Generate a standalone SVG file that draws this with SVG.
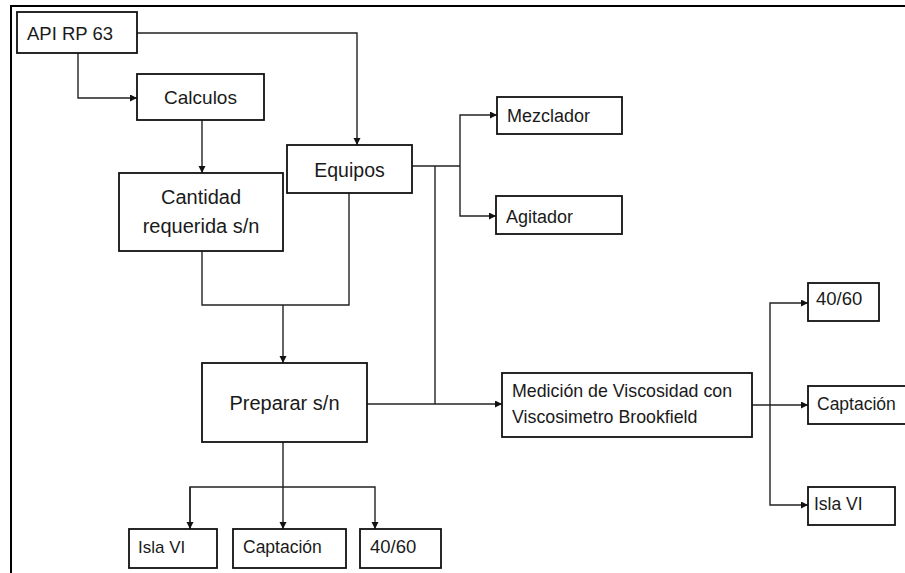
<svg xmlns="http://www.w3.org/2000/svg" width="905" height="573" viewBox="0 0 905 573">
<style>
.box{fill:#fff;stroke:#111;stroke-width:1.8}
.t{font-family:"Liberation Sans",Arial,sans-serif;fill:#1a1a1a}
.m{text-anchor:middle}
.ln{fill:none;stroke:#222;stroke-width:1.4}
.frame{fill:none;stroke:#000;stroke-width:2}
</style>
<defs>
<marker id="ah" markerUnits="userSpaceOnUse" markerWidth="8" markerHeight="8" refX="7" refY="3.5" orient="auto">
<path d="M0,0 L7,3.5 L0,7 z" fill="#111"/>
</marker>
</defs>
<rect width="905" height="573" fill="#fff"/>
<polyline class="frame" points="11,573 11,6 905,6"/>

<g id="connectors">
<polyline class="ln" points="137,33 357,33 357,145" marker-end="url(#ah)"/>
<polyline class="ln" points="78,53 78,98 137,98" marker-end="url(#ah)"/>
<polyline class="ln" points="202,120 202,173" marker-end="url(#ah)"/>
<polyline class="ln" points="412,166 460,166"/>
<polyline class="ln" points="460,166 460,115 497,115" marker-end="url(#ah)"/>
<polyline class="ln" points="460,166 460,216 496,216" marker-end="url(#ah)"/>
<polyline class="ln" points="435,166 435,404"/>
<polyline class="ln" points="202,251 202,305 349,305 349,193"/>
<polyline class="ln" points="283,305 283,363" marker-end="url(#ah)"/>
<polyline class="ln" points="367,404 502,404" marker-end="url(#ah)"/>
<polyline class="ln" points="752,405 808,405" marker-end="url(#ah)"/>
<polyline class="ln" points="770,405 770,303 808,303" marker-end="url(#ah)"/>
<polyline class="ln" points="770,405 770,505 808,505" marker-end="url(#ah)"/>
<polyline class="ln" points="283,442 283,529" marker-end="url(#ah)"/>
<polyline class="ln" points="190,529 190,487 375,487 375,529" marker-end="url(#ah)"/>
<polyline class="ln" points="190,487 190,529" marker-end="url(#ah)"/>
</g>

<g id="api"><rect class="box" x="17" y="12" width="120" height="41"/><text class="t" x="27" y="40" font-size="18.5">API RP 63</text></g>
<g id="calculos"><rect class="box" x="137" y="74" width="127" height="46"/><text class="t m" x="200.5" y="104" font-size="19">Calculos</text></g>
<g id="cantidad"><rect class="box" x="119" y="173" width="164" height="78"/><text class="t m" x="201" y="204" font-size="20">Cantidad</text><text class="t m" x="201" y="233" font-size="20">requerida s/n</text></g>
<g id="equipos"><rect class="box" x="287" y="145" width="125" height="48"/><text class="t m" x="349.5" y="177" font-size="19.5">Equipos</text></g>
<g id="mezclador"><rect class="box" x="497" y="97" width="125" height="37"/><text class="t" x="507" y="122" font-size="18">Mezclador</text></g>
<g id="agitador"><rect class="box" x="496" y="196" width="126" height="38"/><text class="t" x="506" y="223" font-size="18">Agitador</text></g>
<g id="preparar"><rect class="box" x="202" y="363" width="165" height="79"/><text class="t m" x="284.5" y="410" font-size="20">Preparar s/n</text></g>
<g id="medicion"><rect class="box" x="502" y="373" width="250" height="64"/><text class="t" x="512" y="397" font-size="17.8">Medición de Viscosidad con</text><text class="t" x="512" y="423" font-size="17.8">Viscosimetro Brookfield</text></g>
<g id="r4060"><rect class="box" x="808" y="283" width="71" height="38"/><text class="t" x="816" y="305" font-size="18.5">40/60</text></g>
<g id="rcaptacion"><rect class="box" x="808" y="386" width="100" height="38"/><text class="t" x="817" y="410" font-size="17.5">Captación</text></g>
<g id="risla"><rect class="box" x="808" y="487" width="87" height="38"/><text class="t" x="814" y="510" font-size="17.5">Isla VI</text></g>
<g id="bisla"><rect class="box" x="129" y="529" width="88" height="39"/><text class="t" x="138" y="553" font-size="17">Isla VI</text></g>
<g id="bcaptacion"><rect class="box" x="233" y="529" width="113" height="39"/><text class="t" x="243" y="553" font-size="17.5">Captación</text></g>
<g id="b4060"><rect class="box" x="360" y="529" width="81" height="39"/><text class="t" x="370" y="553" font-size="18.5">40/60</text></g>
</svg>
